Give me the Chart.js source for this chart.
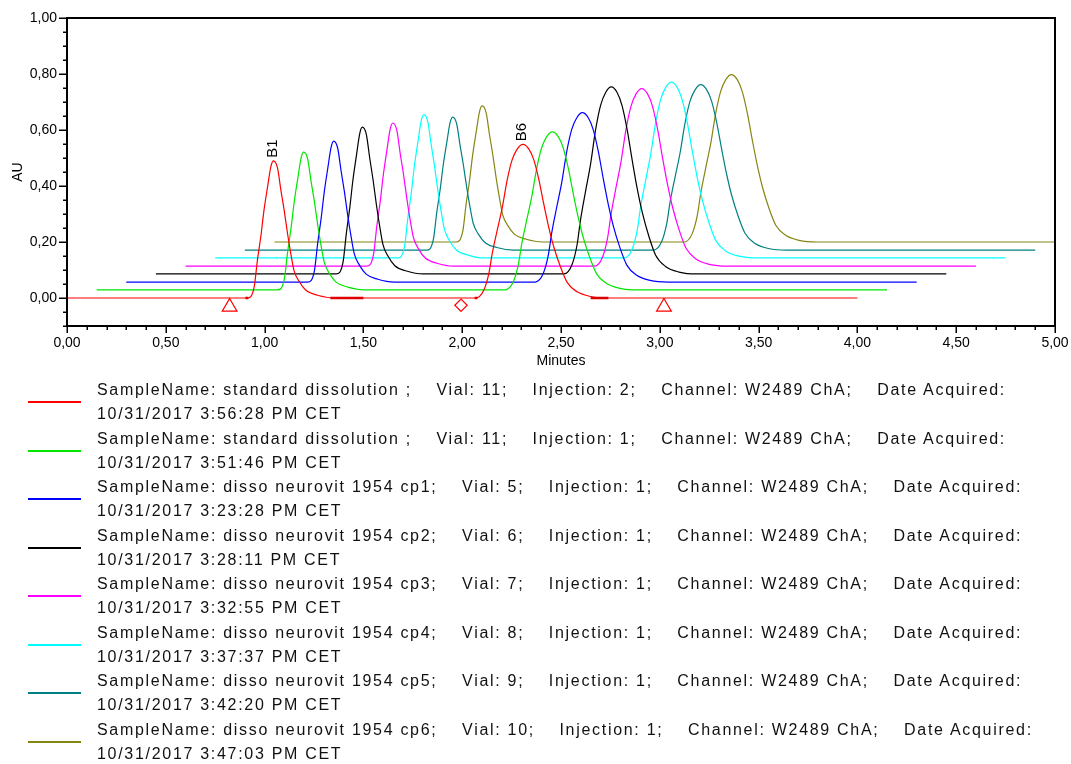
<!DOCTYPE html>
<html><head><meta charset="utf-8">
<script src="https://cdn.jsdelivr.net/npm/chart.js@4.4.1/dist/chart.umd.min.js"></script>
<style>
html,body{margin:0;padding:0;background:#fff;}
body{width:1071px;height:764px;position:relative;overflow:hidden;font-family:"Liberation Sans",Arial,sans-serif;}
#wrap{position:absolute;left:0;top:0;width:1071px;height:380px;}
#legend{position:absolute;left:0;top:0;width:1071px;height:764px;pointer-events:none;}
.entry{position:absolute;left:0;width:1071px;height:48px;}
.swatch{position:absolute;left:28px;top:23px;width:53px;height:2px;}
.txt{position:absolute;left:97px;top:0;font-size:16px;line-height:24px;letter-spacing:1.7px;white-space:pre;color:#111;}
</style></head>
<body>
<div id="wrap"><canvas id="c"></canvas></div>
<div id="legend"></div>
<script>
// ---- legend / sample info ----
const sampleNames = ['standard dissolution ', 'standard dissolution ', 'disso neurovit 1954 cp1', 'disso neurovit 1954 cp2',
  'disso neurovit 1954 cp3', 'disso neurovit 1954 cp4', 'disso neurovit 1954 cp5', 'disso neurovit 1954 cp6'];
const vials = [11, 11, 5, 6, 7, 8, 9, 10];
const injections = [2, 1, 1, 1, 1, 1, 1, 1];
const channelName = 'W2489 ChA';
const datesAcquired = ['10/31/2017 3:56:28 PM CET', '10/31/2017 3:51:46 PM CET', '10/31/2017 3:23:28 PM CET', '10/31/2017 3:28:11 PM CET',
  '10/31/2017 3:32:55 PM CET', '10/31/2017 3:37:37 PM CET', '10/31/2017 3:42:20 PM CET', '10/31/2017 3:47:03 PM CET'];
const traceColors = ['#ff0000', '#00e600', '#0000ff', '#000000', '#ff00ff', '#00ffff', '#008080', '#868612'];

// ---- overlay offsets (minutes, AU) ----
const xOffsets = [0, 0.15, 0.30, 0.45, 0.60, 0.75, 0.90, 1.05];
const yOffsets = [0, 0.029, 0.057, 0.086, 0.114, 0.143, 0.171, 0.200];
const runLength = 4.00;

// ---- peaks (un-offset time, height in AU) ----
const peakB1Time   = [1.045, 1.048, 1.050, 1.045, 1.049, 1.056, 1.052, 1.051];
const peakB1Height = [0.490, 0.492, 0.503, 0.524, 0.511, 0.512, 0.475, 0.486];
const peakB6Time   = [2.307, 2.306, 2.308, 2.304, 2.308, 2.308, 2.307, 2.312];
const peakB6Height = [0.549, 0.564, 0.605, 0.668, 0.634, 0.628, 0.591, 0.598];

// peak profiles: time from apex (min), fraction of apex height
const b1ShapeDt   = [-0.132, -0.098, -0.081, -0.064, -0.048, -0.030, -0.013, 0, 0.020, 0.037, 0.054, 0.071, 0.088, 0.104, 0.130, 0.164, 0.223, 0.307];
const b1ShapeFrac = [0, 0.08, 0.28, 0.45, 0.64, 0.81, 0.96, 1, 0.95, 0.79, 0.64, 0.47, 0.32, 0.20, 0.12, 0.056, 0.02, 0];
const b6ShapeDt   = [-0.239, -0.198, -0.172, -0.155, -0.130, -0.104, -0.079, -0.054, -0.028, 0, 0.030, 0.055, 0.081, 0.106, 0.131, 0.157, 0.191, 0.225, 0.275, 0.343, 0.433];
const b6ShapeFrac = [0, 0.05, 0.16, 0.29, 0.44, 0.59, 0.77, 0.90, 0.97, 1, 0.97, 0.90, 0.77, 0.61, 0.46, 0.33, 0.20, 0.10, 0.04, 0.01, 0];
const peakLabels = ['B1', 'B6'];

// integration marks on the red trace (start, end in minutes)
const integrationStart = [0.903, 1.333, 2.063, 2.650];
const integrationEnd   = [0.918, 1.500, 2.078, 2.740];

// event markers
const eventTimes  = [0.823, 1.994, 3.021];
const eventValues = [-0.032, -0.026, -0.032];
const eventShapes = ['triangle', 'rectRot', 'triangle'];

// ---- axes ----
const xMajor = [0, 0.5, 1, 1.5, 2, 2.5, 3, 3.5, 4, 4.5, 5];
const xTickLabels = ['0,00', '0,50', '1,00', '1,50', '2,00', '2,50', '3,00', '3,50', '4,00', '4,50', '5,00'];
const yMajor = [0, 0.2, 0.4, 0.6, 0.8, 1.0];
const yTickLabels = ['0,00', '0,20', '0,40', '0,60', '0,80', '1,00'];

function majorIndex(v, arr){ for (let j=0;j<arr.length;j++) if (Math.abs(v-arr[j])<1e-6) return j; return -1; }

// ---- datasets ----
const datasets = [];
// integration marks (drawn on top)
const markPts = [];
for (let k=0;k<integrationStart.length;k++){
  markPts.push({x:integrationStart[k], y:yOffsets[0]});
  markPts.push({x:integrationEnd[k], y:yOffsets[0]});
  if (k < integrationStart.length-1) markPts.push({x:(integrationEnd[k]+integrationStart[k+1])/2, y:null});
}
datasets.push({label:'marks', data:markPts, borderColor:'#e00000', borderWidth:2.6, pointRadius:0, spanGaps:false, fill:false});
datasets.push({label:'events', data:eventTimes.map((t,k)=>({x:t, y:eventValues[k]})), showLine:false,
  pointStyle:eventShapes, pointRadius:[8.5, 6.2, 8.5], pointBorderColor:'#ff0000', pointBackgroundColor:'rgba(0,0,0,0)', pointBorderWidth:1.2});

for (let i=0;i<traceColors.length;i++){
  const x0 = xOffsets[i], y0 = yOffsets[i];
  const pts = [{x:x0, y:y0}];
  for (let k=0;k<b1ShapeDt.length;k++) pts.push({x:x0+peakB1Time[i]+b1ShapeDt[k], y:y0+peakB1Height[i]*b1ShapeFrac[k]});
  for (let k=0;k<b6ShapeDt.length;k++) pts.push({x:x0+peakB6Time[i]+b6ShapeDt[k], y:y0+peakB6Height[i]*b6ShapeFrac[k]});
  pts.push({x:x0+runLength, y:y0});
  datasets.push({label:sampleNames[i], data:pts, borderColor:traceColors[i], borderWidth:1.2, pointRadius:0,
    cubicInterpolationMode:'monotone', fill:false});
}

const FONT = '"Liberation Sans", Arial, sans-serif';

const framePlugin = {
  id:'frame',
  afterDraw(chart){
    const {ctx, chartArea:a, scales:{x, y}} = chart;
    ctx.save();
    ctx.strokeStyle = '#000';
    ctx.lineWidth = 2;
    ctx.strokeRect(a.left, a.top, a.right-a.left, a.bottom-a.top);
    ctx.lineWidth = 1.5;
    ctx.beginPath();
    x.ticks.forEach(t => {
      const px = Math.round(x.getPixelForValue(t.value)) + 0.25;
      const len = majorIndex(t.value, xMajor) >= 0 ? 7 : 4;
      ctx.moveTo(px, a.bottom); ctx.lineTo(px, a.bottom + len);
    });
    y.ticks.forEach(t => {
      const py = Math.round(y.getPixelForValue(t.value)) + 0.25;
      const len = majorIndex(t.value, yMajor) >= 0 ? 8 : 4;
      ctx.moveTo(a.left, py); ctx.lineTo(a.left - len, py);
    });
    ctx.stroke();
    // axis titles
    ctx.fillStyle = '#000';
    ctx.font = '14px ' + FONT;
    ctx.textAlign = 'center'; ctx.textBaseline = 'middle';
    ctx.fillText('Minutes', (a.left + a.right)/2, 361);
    ctx.save();
    ctx.translate(18, (a.top + a.bottom)/2);
    ctx.rotate(-Math.PI/2);
    ctx.fillText('AU', 0, 0);
    ctx.restore();
    // peak labels on the first trace
    ctx.font = '15px ' + FONT;
    const apexT = [peakB1Time[0], peakB6Time[0]], apexH = [peakB1Height[0], peakB6Height[0]];
    for (let k=0;k<peakLabels.length;k++){
      const px = x.getPixelForValue(xOffsets[0] + apexT[k]);
      const py = y.getPixelForValue(yOffsets[0] + apexH[k]);
      ctx.save();
      ctx.translate(px - 1, py - 3);
      ctx.rotate(-Math.PI/2);
      ctx.textAlign = 'left'; ctx.textBaseline = 'middle';
      ctx.fillText(peakLabels[k], 0, 0);
      ctx.restore();
    }
    ctx.restore();
  }
};

new Chart(document.getElementById('c'), {
  type:'line',
  data:{datasets},
  options:{
    responsive:true, maintainAspectRatio:false, animation:false, devicePixelRatio:1,
    layout:{padding:{top:18, right:16, left:0, bottom:0}},
    plugins:{legend:{display:false}, tooltip:{enabled:false}},
    elements:{line:{tension:0}},
    scales:{
      x:{type:'linear', min:0, max:5,
        afterFit(s){ s.height = 54; },
        grid:{display:true, drawOnChartArea:false, drawTicks:true, tickLength:7, tickColor:'rgba(0,0,0,0)', color:'rgba(0,0,0,0)'},
        border:{display:false},
        ticks:{stepSize:0.1, autoSkip:false, maxRotation:0, minRotation:0, padding:2, color:'#000', font:{family:FONT, size:14},
          callback(v){ const j = majorIndex(v, xMajor); return j>=0 ? xTickLabels[j] : ''; }}
      },
      y:{type:'linear', min:-0.1, max:1.0,
        afterFit(s){ s.width = 67; },
        grid:{display:true, drawOnChartArea:false, drawTicks:true, tickLength:8, tickColor:'rgba(0,0,0,0)', color:'rgba(0,0,0,0)'},
        border:{display:false},
        ticks:{stepSize:0.05, autoSkip:false, padding:2, color:'#000', font:{family:FONT, size:14},
          callback(v){ const j = majorIndex(v, yMajor); return j>=0 ? yTickLabels[j] : ''; }}
      }
    }
  },
  plugins:[framePlugin]
});

// ---- legend ----
const legend = document.getElementById('legend');
for (let i=0;i<sampleNames.length;i++){
  const e = document.createElement('div');
  e.className = 'entry';
  e.style.top = (378 + 48.5*i) + 'px';
  const sw = document.createElement('div');
  sw.className = 'swatch'; sw.style.background = traceColors[i];
  const t = document.createElement('div');
  t.className = 'txt';
  t.textContent = 'SampleName: ' + sampleNames[i] + ';    Vial: ' + vials[i] + ';    Injection: ' + injections[i] +
    ';    Channel: ' + channelName + ';    Date Acquired:\n' + datesAcquired[i];
  e.appendChild(sw); e.appendChild(t);
  legend.appendChild(e);
}
</script>
</body></html>
